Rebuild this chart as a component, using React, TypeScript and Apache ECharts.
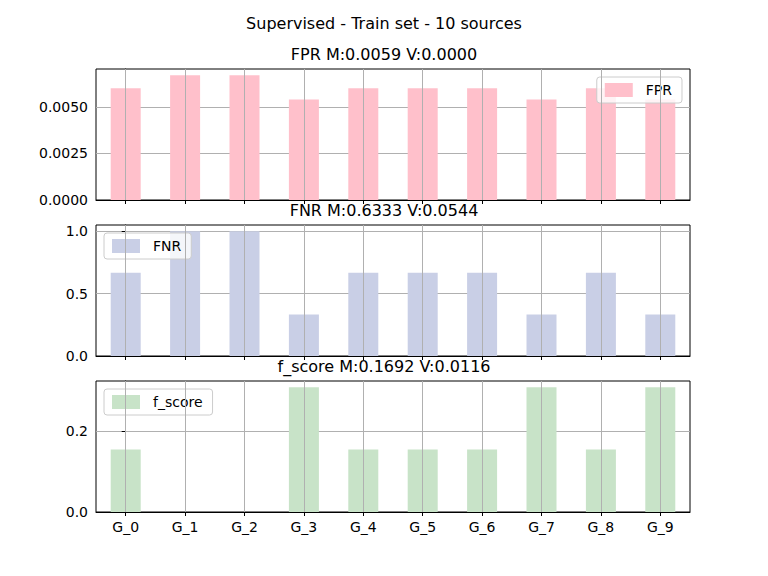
import { useEffect, useRef } from 'react'
import * as echarts from 'echarts'

const groups = ['G_0', 'G_1', 'G_2', 'G_3', 'G_4', 'G_5', 'G_6', 'G_7', 'G_8', 'G_9']
const fpr = [0.006, 0.0067, 0.0067, 0.0054, 0.006, 0.006, 0.006, 0.0054, 0.006, 0.0054]
const fnr = [0.667, 1.0, 1.0, 0.333, 0.667, 0.667, 0.667, 0.333, 0.667, 0.333]
const fscore = [0.154, 0, 0, 0.308, 0.154, 0.154, 0.154, 0.308, 0.154, 0.308]

const titles = ['FPR M:0.0059 V:0.0000', 'FNR M:0.6333 V:0.0544', 'f_score M:0.1692 V:0.0116']
const names = ['FPR', 'FNR', 'f_score']
const colors = ['#ffc0cb', '#c9cfe6', '#c8e3c8']
const tops = [69, 225, 381]
const yMax = [0.00704, 1.05, 0.3234]
const yInterval = [0.0025, 0.5, 0.2]
const yDigits = [4, 1, 1]
const font = 'DejaVu Sans'

export default function App() {
  const ref = useRef<HTMLDivElement>(null)
  useEffect(() => {
    if (!ref.current) return
    const chart = echarts.init(ref.current, null, { renderer: 'svg' })
    const data = [fpr, fnr, fscore]
    const ticks = groups.map((_, i) => i)
    chart.setOption({
      animation: false,
      backgroundColor: '#fff',
      title: [
        { text: 'Supervised - Train set - 10 sources', left: 'center', top: 10, textStyle: { fontFamily: font, fontSize: 16, fontWeight: 'normal', color: '#000' } },
        ...titles.map((t, i) => ({
          text: t, left: 'center', top: tops[i] - 28,
          textStyle: { fontFamily: font, fontSize: 16, fontWeight: 'normal', color: '#000' },
        })),
      ],
      legend: names.map((n, i) => ({
        data: [n],
        ...(i === 0 ? { right: 86 } : { left: 104 }),
        top: tops[i] + 8,
        orient: 'vertical',
        icon: 'rect',
        itemWidth: 28,
        itemHeight: 14,
        itemGap: 10,
        padding: [6, 10, 6, 8],
        borderColor: '#ccc',
        borderWidth: 1,
        borderRadius: 3,
        backgroundColor: 'rgba(255,255,255,0.8)',
        textStyle: { fontFamily: font, fontSize: 14, color: '#000', padding: [0, 0, 0, 8] },
      })),
      grid: tops.map(t => ({ left: 96, width: 594, top: t, height: 131, show: true, borderColor: '#000', borderWidth: 1 })),
      xAxis: tops.map((_, i) => ({
        type: 'value', gridIndex: i, min: -0.5, max: 9.5,
        axisLine: { lineStyle: { color: '#000' } },
        splitLine: { show: false },
        axisTick: { customValues: ticks, lineStyle: { color: '#000' }, length: 4 },
        axisLabel: {
          show: i === 2, customValues: ticks,
          formatter: (v: number) => groups[Math.round(v)],
          fontFamily: font, fontSize: 14, color: '#000',
        },
      })),
      yAxis: tops.map((_, i) => ({
        type: 'value', gridIndex: i, min: 0, max: yMax[i], interval: yInterval[i],
        axisLine: { show: true, lineStyle: { color: '#000' } },
        axisTick: { show: true, length: 4, lineStyle: { color: '#000' } },
        splitLine: { lineStyle: { color: '#b0b0b0' }, showMaxLine: false },
        axisLabel: { showMaxLabel: false, formatter: (v: number) => v.toFixed(yDigits[i]), fontFamily: font, fontSize: 14, color: '#000' },
      })),
      series: names.map((n, i) => ({
        name: n, type: 'bar', xAxisIndex: i, yAxisIndex: i,
        barWidth: 30,
        itemStyle: { color: colors[i] },
        data: data[i].map((v, j) => [j, v]),
        markLine: {
          silent: true, symbol: 'none', label: { show: false },
          lineStyle: { color: '#b0b0b0', type: 'solid', width: 1 },
          data: ticks.map(x => ({ xAxis: x })),
        },
      })),
    })
    return () => chart.dispose()
  }, [])
  return <div ref={ref} style={{ position: 'fixed', left: 0, top: 0, width: 768, height: 576 }} />
}
